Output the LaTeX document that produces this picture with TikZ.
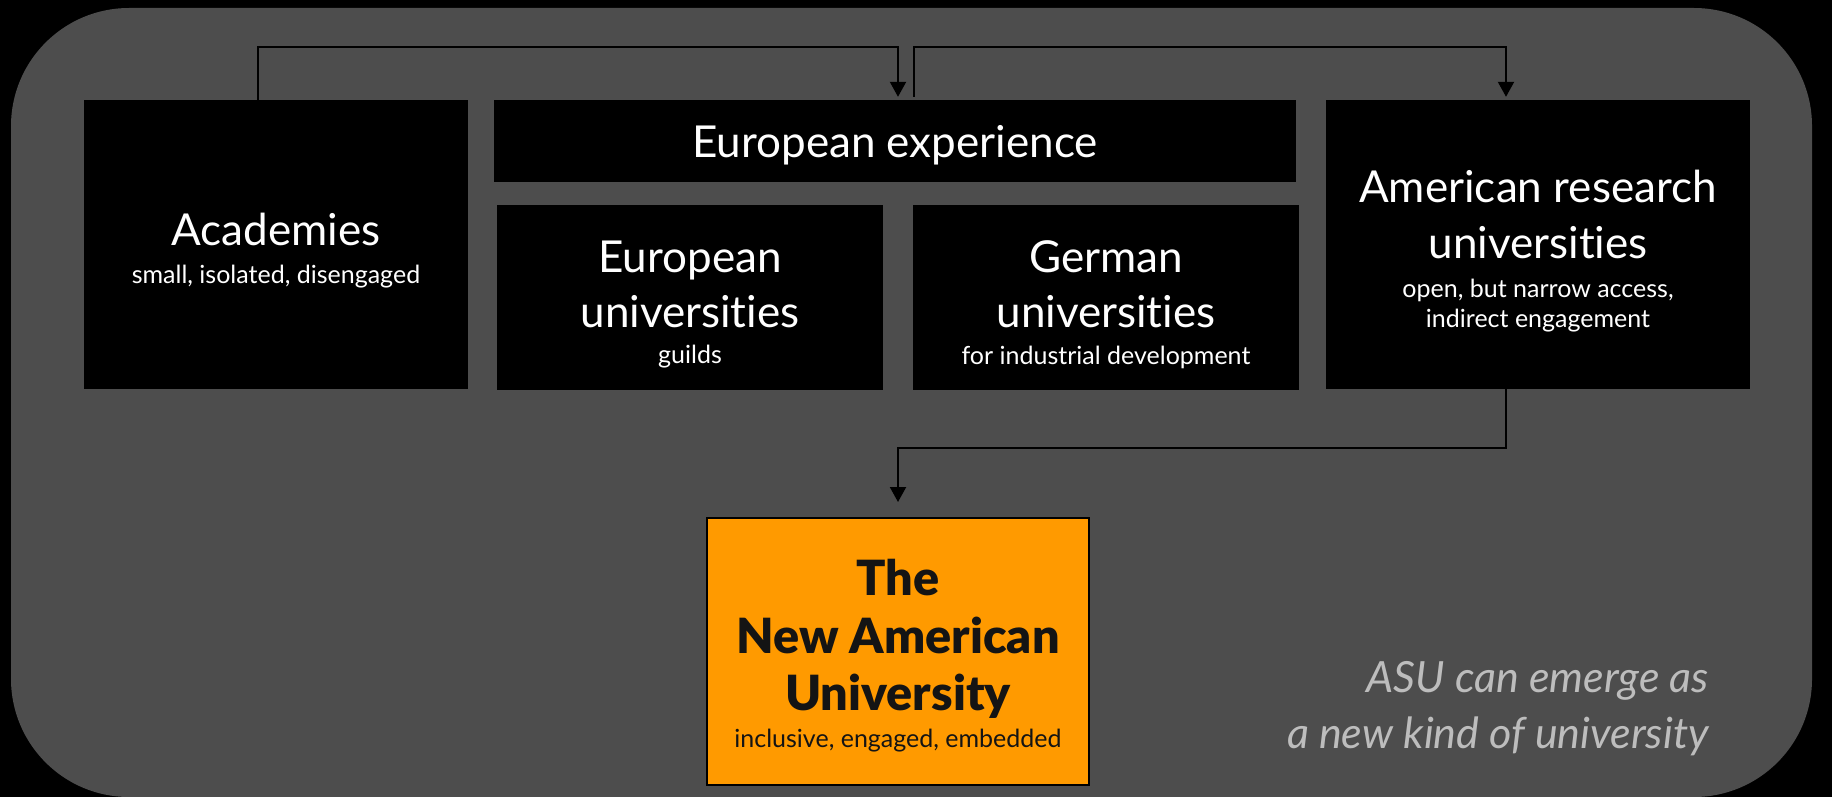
\documentclass[tikz,border=0pt]{standalone}
\usepackage{fontspec}
\setmainfont{Lato}[Ligatures={NoCommon,NoContextual}]
\newfontfamily\heavyf{Lato Black}[Ligatures={NoCommon,NoContextual}]
\usetikzlibrary{arrows.meta}
\definecolor{panel}{HTML}{4D4D4D}
\definecolor{asuorange}{HTML}{FF9A00}
\definecolor{note}{HTML}{BDBDBD}
\definecolor{dark}{HTML}{141414}
\newcommand\mainf{\fontsize{44}{50}\selectfont}
\newcommand\subf{\fontsize{25}{30}\selectfont}
\newcommand\nauf{\fontsize{48.5}{52}\selectfont\heavyf}
\newcommand\notef{\fontsize{43}{50}\selectfont\itshape}
\tikzset{
  box/.style={fill=black, draw=none, inner sep=0pt},
  wt/.style={text=white, anchor=base, inner sep=0pt},
  dt/.style={text=dark, anchor=base, inner sep=0pt},
  nt/.style={text=note, anchor=base east, inner sep=0pt},
  arr/.style={draw=black, line width=2pt, -{Triangle[length=15pt,width=16pt]}},
}
\begin{document}
\begin{tikzpicture}[x=1pt,y=-1pt]
\useasboundingbox (0,0) rectangle (1832,797);
\fill[black] (0,0) rectangle (1832,797);
\fill[panel, rounded corners=118pt] (11,8) rectangle (1812,797);
% boxes
\node[box, minimum width=384pt, minimum height=289pt] (acad) at (276,244.5) {};
\node[box, minimum width=802pt, minimum height=82pt] (eurexp) at (895,141) {};
\node[box, minimum width=386pt, minimum height=185pt] (euruni) at (690,297.5) {};
\node[box, minimum width=386pt, minimum height=185pt] (german) at (1106,297.5) {};
\node[box, minimum width=424pt, minimum height=289pt] (amer) at (1538,244.5) {};
\node[fill=asuorange, draw=black, line width=2pt, inner sep=0pt, minimum width=382pt, minimum height=267pt] (nau) at (898,651.5) {};
% texts
\node[wt] (eurexpT) at (895,158) {\mainf European experience};
\node[wt] (acadT) at (276,245) {\mainf Academies};
\node[wt] (acadS) at (276,283) {\subf small, isolated, disengaged};
\node[wt] (euruniT1) at (690,272) {\mainf European};
\node[wt] (euruniT2) at (690,327) {\mainf universities};
\node[wt] (euruniS) at (690,363) {\subf guilds};
\node[wt] (germanT1) at (1106,272) {\mainf German};
\node[wt] (germanT2) at (1106,327) {\mainf universities};
\node[wt] (germanS) at (1106,364) {\subf for industrial development};
\node[wt] (amerT1) at (1538,202) {\mainf American research};
\node[wt] (amerT2) at (1538,258) {\mainf universities};
\node[wt] (amerS1) at (1538,297) {\subf open, but narrow access,};
\node[wt] (amerS2) at (1538,327) {\subf indirect engagement};
\node[dt] (nauT1) at (898,595) {\nauf The};
\node[dt] (nauT2) at (898,653) {\nauf New American};
\node[dt] (nauT3) at (898,710) {\nauf University};
\node[dt] (nauS) at (898,747) {\subf inclusive, engaged, embedded};
\node[nt] (asu1) at (1709,692) {\notef ASU can emerge as};
\node[nt] (asu2) at (1709,748) {\notef a new kind of university};
% connectors
\draw[arr] ([xshift=-18pt]acad.north) -- ++(0,-53) -| ([xshift=3pt,yshift=3pt]eurexp.north);
\draw[arr] ([xshift=19pt,yshift=3pt]eurexp.north) -- ++(0,-50) -| ([xshift=-32pt,yshift=3pt]amer.north);
\draw[arr] ([xshift=-32pt]amer.south) -- ++(0,59) -| ([yshift=15pt]nau.north);
\end{tikzpicture}
\end{document}
